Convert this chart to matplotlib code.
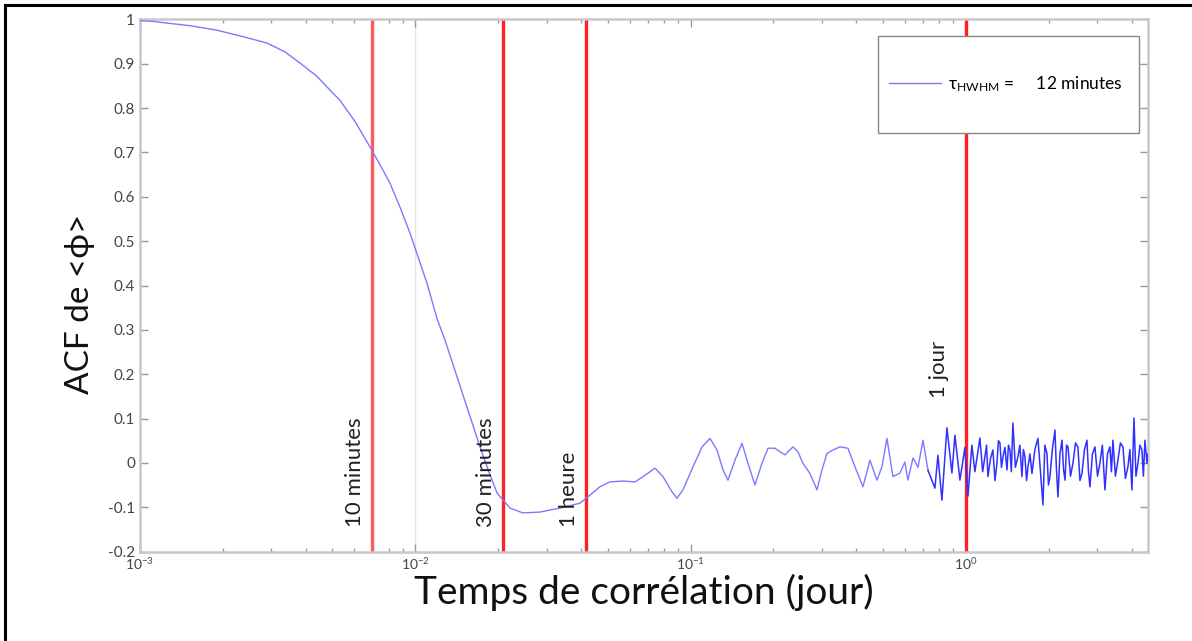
import matplotlib
matplotlib.use("Agg")
import matplotlib.pyplot as plt
from matplotlib.lines import Line2D
from matplotlib.patches import Rectangle
from matplotlib.ticker import LogLocator, NullFormatter

plt.rcParams["font.family"] = ["Lato", "DejaVu Sans"]
plt.rcParams["mathtext.fontset"] = "custom"
plt.rcParams["mathtext.rm"] = "Lato"
plt.rcParams["mathtext.it"] = "Lato:italic"

# lag (days) and ACF of <phi>
lag_days = [
    0.00100, 0.00111, 0.00125, 0.00152, 0.00190, 0.00231, 0.00289, 0.00336,
    0.00381, 0.00439, 0.00502, 0.00532, 0.00604, 0.00684, 0.00744, 0.00809,
    0.00880, 0.00957, 0.01103, 0.01200, 0.01282, 0.01453, 0.01718, 0.01850,
    0.01981, 0.02208, 0.02461, 0.02838, 0.03352, 0.03962, 0.04309, 0.04684,
    0.05093, 0.05679, 0.06279, 0.06827, 0.07424, 0.07935, 0.08554, 0.08920,
    0.09380, 0.1020, 0.1100, 0.1176, 0.1247, 0.1311, 0.1367, 0.1449,
    0.1537, 0.1616, 0.1713, 0.1816, 0.1910, 0.2024, 0.2111, 0.2202,
    0.2353, 0.2454, 0.2559, 0.2713, 0.2877, 0.2999, 0.3128, 0.3289,
    0.3486, 0.3727, 0.3953, 0.4226, 0.4481, 0.4752, 0.4955, 0.5165,
    0.5431, 0.5758, 0.6002, 0.6154, 0.6424, 0.6698, 0.6984, 0.7282,
    0.7714, 0.7911, 0.8180, 0.8530, 0.8895, 0.9120, 0.9510, 0.9916,
    1.017, 1.051, 1.078, 1.124, 1.150, 1.172, 1.188, 1.202,
    1.228, 1.253, 1.275, 1.296, 1.312, 1.329, 1.346, 1.363,
    1.386, 1.409, 1.427, 1.445, 1.462, 1.481, 1.512, 1.545,
    1.570, 1.597, 1.617, 1.638, 1.660, 1.680, 1.708, 1.737,
    1.780, 1.826, 1.865, 1.904, 1.935, 1.969, 1.994, 2.019,
    2.060, 2.105, 2.130, 2.159, 2.195, 2.233, 2.262, 2.290,
    2.320, 2.348, 2.398, 2.447, 2.500, 2.551, 2.595, 2.638,
    2.695, 2.751, 2.786, 2.821, 2.880, 2.942, 3.005, 3.067,
    3.130, 3.198, 3.265, 3.334, 3.376, 3.419, 3.490, 3.565,
    3.640, 3.717, 3.795, 3.876, 3.940, 4.008, 4.076, 4.145,
    4.215, 4.285, 4.357, 4.410, 4.468, 4.544, 4.580,
]
acf_phi = [
    0.997, 0.996, 0.992, 0.986, 0.976, 0.963, 0.947, 0.927,
    0.902, 0.872, 0.834, 0.818, 0.770, 0.713, 0.673, 0.631,
    0.577, 0.518, 0.405, 0.325, 0.277, 0.174, 0.036, -0.020,
    -0.068, -0.102, -0.113, -0.111, -0.102, -0.091, -0.073, -0.054,
    -0.043, -0.041, -0.043, -0.028, -0.012, -0.031, -0.065, -0.080,
    -0.061, -0.009, 0.036, 0.055, 0.029, -0.016, -0.039, 0.006,
    0.044, -0.001, -0.050, -0.001, 0.033, 0.033, 0.025, 0.018,
    0.036, 0.025, -0.001, -0.024, -0.061, -0.016, 0.021, 0.029,
    0.036, 0.033, -0.009, -0.054, 0.006, -0.039, -0.009, 0.055,
    -0.031, -0.023, 0.002, -0.039, 0.011, -0.010, 0.051, -0.017,
    -0.057, 0.017, -0.084, 0.079, -0.023, 0.062, -0.039, 0.035,
    -0.075, 0.040, -0.020, 0.056, -0.020, 0.014, 0.040, -0.031,
    0.010, 0.029, -0.040, -0.001, 0.050, 0.045, -0.010, 0.014,
    0.035, -0.016, 0.040, 0.029, -0.020, 0.090, -0.010, 0.014,
    0.040, -0.031, 0.030, 0.014, -0.040, -0.009, 0.020, -0.024,
    0.030, 0.055, -0.020, -0.095, 0.040, 0.021, -0.050, -0.031,
    0.030, 0.074, -0.010, -0.077, 0.020, 0.051, -0.015, -0.039,
    0.040, 0.036, -0.030, -0.001, 0.045, 0.036, -0.040, -0.024,
    0.030, 0.051, -0.020, -0.054, 0.020, 0.036, -0.030, -0.001,
    0.040, -0.061, 0.020, 0.036, -0.020, 0.051, -0.030, 0.006,
    0.045, 0.036, -0.035, -0.009, 0.030, -0.061, 0.101, -0.030,
    -0.001, 0.040, 0.029, -0.030, 0.051, -0.001, 0.020,
]

# reference times (days) with their labels and label heights
mark_days = [10 / 1440, 30 / 1440, 60 / 1440, 1.0]
mark_labels = ["10 minutes", "30 minutes", "1 heure", "1 jour"]
mark_label_y = [-0.145, -0.145, -0.145, 0.146]

ytick_vals = [-0.2, -0.1, 0, 0.1, 0.2, 0.3, 0.4, 0.5, 0.6, 0.7, 0.8, 0.9, 1]
ytick_labels = ["-0.2", "-0.1", "0", "0.1", "0.2", "0.3", "0.4", "0.5",
                "0.6", "0.7", "0.8", "0.9", "1"]
xtick_vals = [1e-3, 1e-2, 1e-1, 1e0]
xtick_labels = [r"$10^{-3}$", r"$10^{-2}$", r"$10^{-1}$", r"$10^{0}$"]

fig = plt.figure(figsize=(11.92, 6.41), dpi=100)
ax = fig.add_axes([0.1174, 0.1396, 0.8456, 0.83])

ax.axvline(1e-2, color="#e4e4e4", lw=1, zorder=0)
line_colors = ["#ff5a5a", "#ff2020", "#ff2020", "#ff2020"]
for d, c in zip(mark_days, line_colors):
    ax.axvline(d, color=c, lw=2.4, zorder=2)

split = 0.75
smooth_x = [x for x in lag_days if x <= split]
smooth_y = [y for x, y in zip(lag_days, acf_phi) if x <= split]
noisy_x = [x for x in lag_days if x >= smooth_x[-1]]
noisy_y = acf_phi[len(smooth_x) - 1:]
ax.plot(smooth_x, smooth_y, color="#7a7aff", lw=1.0, zorder=3)
ax.plot(noisy_x, noisy_y, color="#3030ff", lw=1.1, zorder=3)

offsets = [-5, -5, -5, -12]
for d, lab, yl, off in zip(mark_days, mark_labels, mark_label_y, offsets):
    ax.annotate(lab, xy=(d, yl), xytext=(off, 0), textcoords="offset points",
                rotation=90, ha="right", va="bottom", fontsize=16, color="#222222")

ax.set_xscale("log")
ax.set_xlim(1e-3, 4.58)
ax.set_ylim(-0.2, 1)
ax.set_xticks(xtick_vals)
ax.set_xticklabels(xtick_labels, fontsize=10, color="#444444")
ax.xaxis.set_minor_locator(LogLocator(base=10, subs=range(2, 10), numticks=20))
ax.xaxis.set_minor_formatter(NullFormatter())
ax.set_yticks(ytick_vals)
ax.set_yticklabels(ytick_labels, fontsize=11, color="#444444")
ax.tick_params(which="both", direction="in", top=True, right=True,
               color="#999999", width=1)
ax.tick_params(which="major", length=6)
ax.tick_params(which="minor", length=3)
for sp in ax.spines.values():
    sp.set_color("#c8c8c8")
    sp.set_linewidth(1.8)

ax.set_xlabel("Temps de corrélation (jour)", fontsize=28, color="#111111", labelpad=1)
ax.set_ylabel("ACF de <ϕ>", fontsize=24, color="#111111")
ax.yaxis.set_label_coords(-0.045, 0.465)

# legend with its own frame
ax.add_patch(Rectangle((0.732, 0.787), 0.259, 0.182, transform=ax.transAxes,
                       facecolor="white", edgecolor="#888888", lw=1, zorder=4))
handle = Line2D([], [], color="#7a7aff", lw=1.0)
ax.legend([handle], [r"τ$_{\mathregular{HWHM}}$ =     12 minutes"], frameon=False,
          loc="center left", bbox_to_anchor=(0.728, 0.878), handlelength=3.0,
          handletextpad=0.4, fontsize=12.5).set_zorder(5)

# page border (top and left only)
fig.add_artist(Line2D([0.004, 1.0], [0.992, 0.992], color="black", lw=2.2,
                      transform=fig.transFigure))
fig.add_artist(Line2D([0.004, 0.004], [0.0, 0.992], color="black", lw=2.2,
                      transform=fig.transFigure))

fig.savefig("out.png", dpi=100)
